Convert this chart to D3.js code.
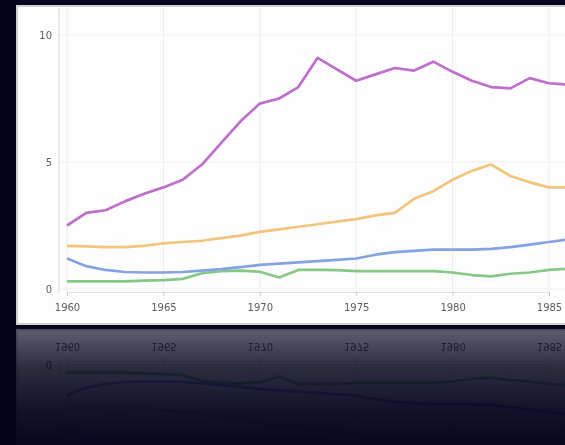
<!DOCTYPE html>
<html><head><meta charset="utf-8">
<script src="https://cdn.jsdelivr.net/npm/d3@7"></script>
<style>html,body{margin:0;padding:0;background:#06061f;overflow:hidden}#s{filter:blur(0.55px)}</style>
</head><body>
<svg id="s" width="565" height="445"></svg>
<script>
const years = d3.range(1960, 1987);
const purple = [2.5,3.0,3.1,3.45,3.75,4.0,4.3,4.9,5.75,6.6,7.3,7.5,7.95,9.1,8.65,8.2,8.45,8.7,8.6,8.95,8.55,8.2,7.95,7.9,8.3,8.1,8.05];
const orange = [1.7,1.68,1.65,1.65,1.7,1.8,1.85,1.9,2.0,2.1,2.25,2.35,2.45,2.55,2.65,2.75,2.9,3.0,3.55,3.85,4.3,4.65,4.9,4.45,4.2,4.0,4.0];
const blue   = [1.2,0.9,0.75,0.67,0.65,0.65,0.67,0.72,0.78,0.86,0.95,1.0,1.05,1.1,1.15,1.2,1.35,1.45,1.5,1.55,1.55,1.55,1.58,1.65,1.75,1.85,1.95];
const green  = [0.3,0.3,0.3,0.3,0.33,0.35,0.4,0.62,0.7,0.72,0.68,0.45,0.75,0.75,0.74,0.7,0.7,0.7,0.7,0.7,0.65,0.55,0.5,0.6,0.65,0.75,0.8];
const xTicks = [1960,1965,1970,1975,1980,1985];
const yTicks = [0,5,10];
const series = [
  {name:"green", values:green, color:"#86c986"},
  {name:"blue", values:blue, color:"#85a3e0"},
  {name:"orange", values:orange, color:"#f3c57c"},
  {name:"purple", values:purple, color:"#bd6fca"}
];

const svg = d3.select("#s");
const defs = svg.append("defs");
const lg = defs.append("linearGradient").attr("id","fade").attr("x1",0).attr("y1",0).attr("x2",0).attr("y2",1);
lg.append("stop").attr("offset","0%").attr("stop-color","#fff").attr("stop-opacity",0.37);
lg.append("stop").attr("offset","35%").attr("stop-color","#fff").attr("stop-opacity",0.15);
lg.append("stop").attr("offset","70%").attr("stop-color","#fff").attr("stop-opacity",0.05);
lg.append("stop").attr("offset","100%").attr("stop-color","#fff").attr("stop-opacity",0.01);
const mask = defs.append("mask").attr("id","rm").attr("maskUnits","userSpaceOnUse")
  .attr("x",0).attr("y",328).attr("width",565).attr("height",117);
mask.append("rect").attr("x",0).attr("y",328).attr("width",565).attr("height",117).attr("fill","url(#fade)");

svg.append("rect").attr("width",565).attr("height",445).attr("fill","#06061f");
svg.append("rect").attr("width",16).attr("height",445).attr("fill","#03031a");

const x = d3.scaleLinear().domain([1960,1985]).range([67,549]);
const y = d3.scaleLinear().domain([0,10]).range([289,35]);

const chart = defs.append("g").attr("id","chart");
chart.append("rect").attr("x",17).attr("y",6).attr("width",560).attr("height",318)
  .attr("fill","#fdfdfd").attr("stroke","#cfcfcf").attr("stroke-width",2);
chart.append("g").selectAll("line").data(xTicks).join("line")
  .attr("x1",d=>x(d)).attr("x2",d=>x(d)).attr("y1",8).attr("y2",293)
  .attr("stroke","#ececec").attr("stroke-width",1);
chart.append("g").selectAll("line").data(yTicks).join("line")
  .attr("x1",59).attr("x2",565).attr("y1",d=>y(d)).attr("y2",d=>y(d))
  .attr("stroke","#f0f0f0").attr("stroke-width",1);
const xAxis = d3.axisBottom(x).tickValues(xTicks).tickFormat(d3.format("d")).tickSize(4).tickPadding(8);
const gx = chart.append("g").attr("transform","translate(0,292)").call(xAxis);
gx.select(".domain").attr("stroke","#e2e2e2");
gx.selectAll(".tick line").attr("stroke","#ccc");
gx.selectAll("text").attr("fill","#5e5e5e").attr("font-size",10).attr("font-family","DejaVu Sans, sans-serif");
const yAxis = d3.axisLeft(y).tickValues(yTicks).tickSize(0).tickPadding(7);
const gy = chart.append("g").attr("transform","translate(59,0)").call(yAxis);
gy.select(".domain").attr("stroke","#dadada").attr("d","M0,8V293");
gy.selectAll("text").attr("fill","#5e5e5e").attr("font-size",10).attr("font-family","DejaVu Sans, sans-serif");

const line = d3.line().x((d,i)=>x(years[i])).y(d=>y(d));
chart.append("g").selectAll("path").data(series).join("path")
  .attr("d",d=>line(d.values)).attr("fill","none")
  .attr("stroke",d=>d.color).attr("stroke-width",2.7).attr("stroke-linejoin","round");

svg.append("use").attr("href","#chart");
svg.append("g").attr("mask","url(#rm)")
  .append("use").attr("href","#chart")
  .attr("transform","translate(0,654) scale(1,-1)");
</script>
</body></html>
